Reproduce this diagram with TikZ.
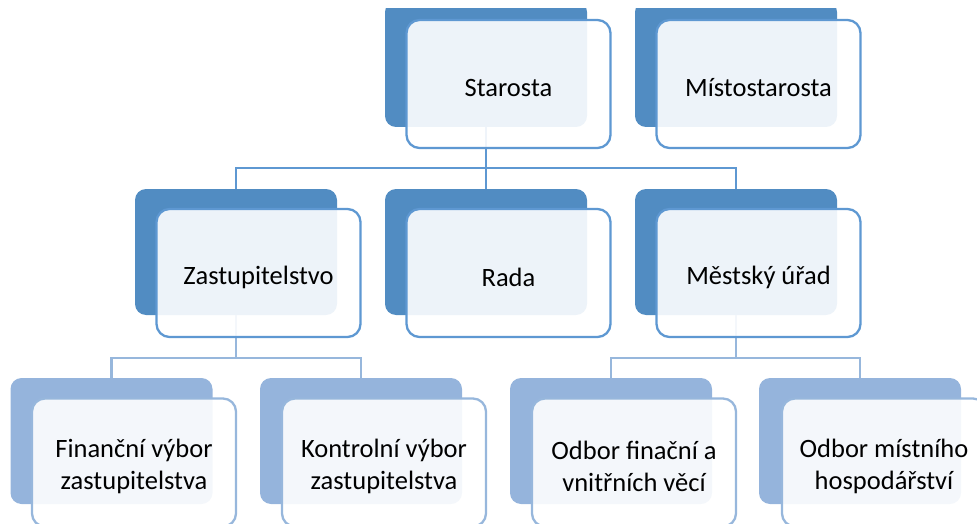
\documentclass[tikz,border=0pt]{standalone}
\usepackage{fontspec}
\setmainfont{Carlito}
\usetikzlibrary{calc}
\definecolor{darkback}{RGB}{81,140,194}
\definecolor{darkline}{RGB}{94,152,210}
\definecolor{lightback}{RGB}{149,180,220}
\definecolor{lightline}{RGB}{151,183,220}
\begin{document}
\begin{tikzpicture}[x=1pt,y=-1pt,
  backbox/.style={rectangle, rounded corners=11pt, minimum width=202pt, minimum height=126pt, inner sep=0pt, draw=none},
  frontbox/.style={rectangle, rounded corners=13pt, minimum width=204pt, minimum height=128pt, inner sep=0pt, fill=white, fill opacity=0.9, line width=2.3pt},
  txt/.style={yshift=-4pt, align=center, text opacity=1, fill opacity=1, font=\fontsize{26.5}{32}\selectfont},
  darkb/.style={backbox, fill=darkback},
  lightb/.style={backbox, fill=lightback},
  darkf/.style={frontbox, draw=darkline},
  lightf/.style={frontbox, draw=lightline},
  conn/.style={line width=2.3pt},
]
\useasboundingbox (0,0) rectangle (977,524);
\begin{scope}
\clip (0,9) rectangle (977,524);
% back boxes
\node[darkb] (sB) at (486,64) {};
\node[darkb] (mB2) at (736,64) {};
\node[darkb] (zB) at (236,252) {};
\node[darkb] (rB) at (486,252) {};
\node[darkb] (uB) at (736,252) {};
\node[lightb] (fB) at (111.5,441) {};
\node[lightb] (kB) at (361,441) {};
\node[lightb] (oB) at (611,441) {};
\node[lightb] (hB) at (860,441) {};
% connectors
\coordinate (h1) at (0,168);
\coordinate (h2) at (0,358);
\draw[conn, draw=darkline] (sB.south) -- (rB.north);
\draw[conn, draw=darkline] (zB.north) |- (uB.north |- h1) -- (uB.north);
\draw[conn, draw=lightline] (zB.south) -- (zB.south |- h2);
\draw[conn, draw=lightline] (fB.north) |- (kB.north |- h2) -- (kB.north);
\draw[conn, draw=lightline] (uB.south) -- (uB.south |- h2);
\draw[conn, draw=lightline] (oB.north) |- (hB.north |- h2) -- (hB.north);
% front boxes
\node[darkf, label={[txt]center:Starosta}] (sF) at (508.5,84) {};
\node[darkf, label={[txt]center:Místostarosta}] (mF) at (758.5,84) {};
\node[darkf, label={[txt]center:Zastupitelstvo}] (zF) at (258.5,273) {};
\node[darkf, label={[txt]center:Rada}] (rF) at (508.5,273) {};
\node[darkf, label={[txt]center:Městský úřad}] (uF) at (758.5,273) {};
\node[lightf, label={[txt]center:Finanční výbor\\zastupitelstva}] (fF) at (134,462.5) {};
\node[lightf, label={[txt]center:Kontrolní výbor\\zastupitelstva}] (kF) at (384,462.5) {};
\node[lightf, label={[txt]center:Odbor finační a\\vnitřních věcí}] (oF) at (634,462.5) {};
\node[lightf, label={[txt]center:Odbor místního\\hospodářství}] (hF) at (884,462.5) {};
\end{scope}
\end{tikzpicture}
\end{document}
